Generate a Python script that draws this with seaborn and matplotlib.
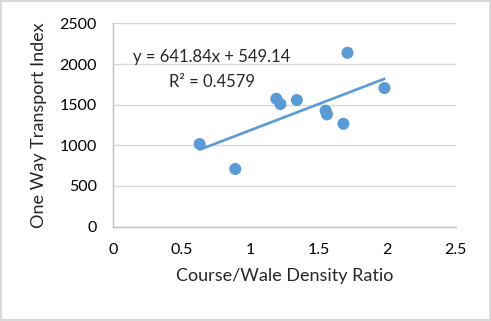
import seaborn as sns
import matplotlib.pyplot as plt
import pandas as pd

# values
density_ratio = [0.63, 0.89, 1.19, 1.22, 1.34, 1.55, 1.56, 1.68, 1.71, 1.98]
transport_index = [1016, 709, 1573, 1508, 1557, 1426, 1381, 1266, 2139, 1705]
equation_text = 'y = 641.84x + 549.14'
r2_text = 'R² = 0.4579'
x_ticks = [0, 0.5, 1, 1.5, 2, 2.5]
y_ticks = [0, 500, 1000, 1500, 2000, 2500]

df = pd.DataFrame({'ratio': density_ratio, 'index': transport_index})

sns.set_theme(style='white')
plt.rcParams['font.family'] = ['Lato', 'DejaVu Sans']

blue = '#5B9BD5'
fig = plt.figure(figsize=(4.91, 3.21), dpi=100)
fig.patch.set_edgecolor('#D9D9D9')
fig.patch.set_linewidth(1.5)
ax = fig.add_axes([0.231, 0.294, 0.697, 0.633])

sns.regplot(data=df, x='ratio', y='index', ci=None, ax=ax,
            scatter_kws={'s': 75, 'color': blue, 'edgecolor': 'none', 'alpha': 1, 'zorder': 3},
            line_kws={'color': blue, 'linewidth': 1.9, 'zorder': 2})

ax.set_xlim(0, 2.5)
ax.set_ylim(0, 2500)
ax.set_xticks(x_ticks)
ax.set_xticklabels([f'{t:g}' for t in x_ticks])
ax.set_yticks(y_ticks)
ax.yaxis.grid(True, color='#D9D9D9', linewidth=1)
ax.set_axisbelow(True)
for side in ['top', 'right']:
    ax.spines[side].set_visible(False)
for side in ['left', 'bottom']:
    ax.spines[side].set_color('#BFBFBF')
    ax.spines[side].set_linewidth(1)
ax.tick_params(axis='both', length=0, labelsize=11.5, colors='#000000')
ax.tick_params(axis='x', pad=12)
ax.tick_params(axis='y', pad=12)

ax.set_xlabel('Course/Wale Density Ratio', fontsize=13, labelpad=8)
ax.set_ylabel('One Way Transport Index', fontsize=13, labelpad=9)

ax.text(0.288, 0.834, equation_text, transform=ax.transAxes, ha='center', va='center', fontsize=12)
ax.text(0.288, 0.711, r2_text, transform=ax.transAxes, ha='center', va='center', fontsize=12)

fig.savefig('out.png', dpi=100)
